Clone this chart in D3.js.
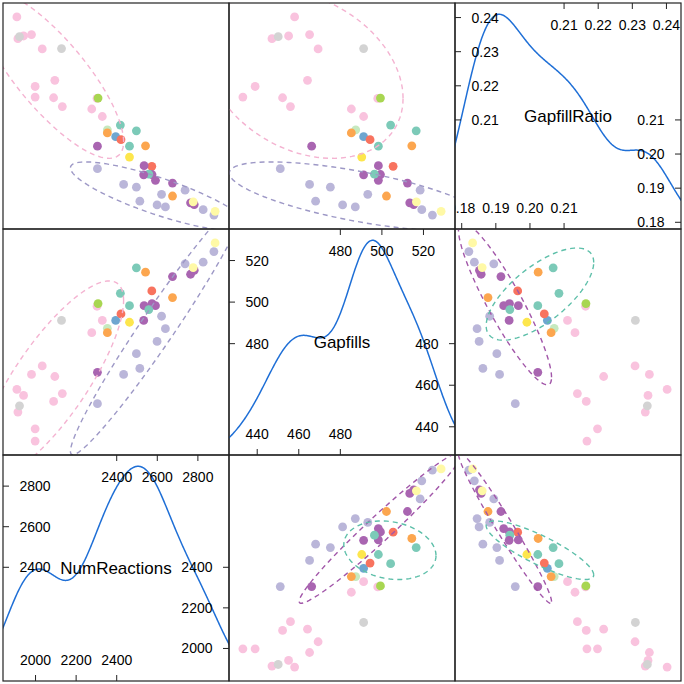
<!DOCTYPE html>
<html>
<head>
<meta charset="utf-8">
<script src="https://cdn.jsdelivr.net/npm/d3@7"></script>
<style>
  html, body { margin: 0; padding: 0; background: #fff; }
  svg { display: block; }
  text { font-family: "Liberation Sans", Arial, Helvetica, sans-serif; }
</style>
</head>
<body>
<svg id="chart" width="684" height="684"></svg>
<script>
// ---------------- data ----------------
const varNames = ["NumReactions", "Gapfills", "GapfillRatio"];

const groupNames = ["g1","g2","g3","g4","g5","g6","g7","g8","g9","g10","g11","g12"];
const groupColors = ["#7ccab8","#fff9a6","#bab6d9","#f8735f","#6fa6d0","#fca64f",
                     "#a8d651","#f9c3de","#d3d3d3","#a965b1","#c6e9bf","#fde64d"];

const pointGroup = [
  "g8","g8","g8","g8","g8","g8","g8","g8","g8","g8","g8","g8","g8",
  "g9","g9",
  "g7","g11","g6","g5","g4","g12",
  "g1","g1","g1","g6","g4",
  "g10","g10","g10","g1","g10","g10","g6","g10","g10","g10","g2",
  "g3","g3","g3","g2",
  "g3","g3","g3","g3","g3","g3","g3"
];
const numReactions = [
  1908,1941,1913,1980,2033,2095,2132,2089,1998,1998,2277,2329,2303,
  2128,1921,
  2308,2354,2354,2395,2421,2463,
  2418,2463,2497,2542,2573,
  2535,2574,2591,2558,2533,2305,2675,2675,2764,2782,2777,
  2737,2826,2879,2885,
  2621,2640,2599,2497,2514,2434,2305
];
const gapfills = [
  458.0,455.1,447.1,465.2,469.3,464.2,456.0,452.2,439.0,433.1,485.3,491.2,498.0,
  491.2,450.1,
  499.3,487.4,485.3,491.2,494.3,490.3,
  504.2,498.3,516.5,514.4,505.4,
  498.3,499.3,498.3,496.4,491.2,466.2,502.2,512.3,513.4,515.3,516.6,
  518.4,519.2,524.3,528.5,
  493.2,487.2,481.1,475.2,468.1,465.2,451.1
];
const gapfillRatio = [
  0.2402,0.2346,0.2338,0.2350,0.2308,0.2216,0.2139,0.2165,0.2198,0.2167,0.2132,0.2110,0.2163,
  0.2309,0.2344,
  0.2164,0.2071,0.2062,0.2051,0.2042,0.1991,
  0.2085,0.2023,0.2068,0.2024,0.1964,
  0.1966,0.1940,0.1923,0.1941,0.1939,0.2023,0.1877,0.1915,0.1857,0.1852,0.1860,
  0.1894,0.1837,0.1821,0.1832,
  0.1882,0.1845,0.1851,0.1903,0.1862,0.1911,0.1957
];

const tickNumReactions = [2000, 2200, 2400, 2600, 2800];
const tickGapfills = [440, 460, 480, 500, 520];
const tickGapfillRatio = [0.18, 0.19, 0.20, 0.21, 0.22, 0.23, 0.24];
const tickLabelsNumReactions = ["2000","2200","2400","2600","2800"];
const tickLabelsGapfills = ["440","460","480","500","520"];
const tickLabelsGapfillRatio = ["0.18","0.19","0.20","0.21","0.22","0.23","0.24"];

// groups that get a 95% data ellipse: upper-left panels vs lower-right panels
const ellipseGroupsUpper = ["g8", "g3"];
const ellipseGroupsLower = ["g10", "g1"];
const ellipseColors = { g8: "#f4b3d1", g3: "#9d98c6", g10: "#a257a9", g1: "#5dbfa9" };
const ellipseLevel = 0.95;

// ---------------- layout ----------------
const svg = d3.select("#chart");
const X0 = 3, SIZE = 678, N = 3, P = SIZE / N;

const vars = [
  { name: varNames[0], values: numReactions, ticks: tickNumReactions, labels: tickLabelsNumReactions },
  { name: varNames[1], values: gapfills, ticks: tickGapfills, labels: tickLabelsGapfills },
  { name: varNames[2], values: gapfillRatio, ticks: tickGapfillRatio, labels: tickLabelsGapfillRatio }
];
vars.forEach(v => {
  const [mn, mx] = d3.extent(v.values);
  const pad = (mx - mn) * 0.07;
  v.domain = [mn - pad, mx + pad];
});
const colorScale = d3.scaleOrdinal().domain(groupNames).range(groupColors);

const defs = svg.append("defs");

function bwNrd0(x) {
  const s = x.slice().sort(d3.ascending);
  const sd = d3.deviation(s);
  const iqr = d3.quantileSorted(s, 0.75) - d3.quantileSorted(s, 0.25);
  const lo = Math.min(sd, iqr / 1.34);
  return 0.9 * lo * Math.pow(s.length, -0.2);
}
function kde(x) {
  const bw = bwNrd0(x);
  const [mn, mx] = d3.extent(x);
  const a = mn - 3 * bw, b = mx + 3 * bw, n = 512;
  const out = [];
  for (let i = 0; i < n; i++) {
    const t = a + (b - a) * i / (n - 1);
    let s = 0;
    for (const xi of x) { const z = (t - xi) / bw; s += Math.exp(-0.5 * z * z); }
    out.push([t, s / (x.length * bw * Math.sqrt(2 * Math.PI))]);
  }
  return out;
}
function ellipsePts(xs, ys, level) {
  const n = xs.length;
  const mx = d3.mean(xs), my = d3.mean(ys);
  let sxx = 0, syy = 0, sxy = 0;
  for (let i = 0; i < n; i++) {
    sxx += (xs[i] - mx) ** 2; syy += (ys[i] - my) ** 2; sxy += (xs[i] - mx) * (ys[i] - my);
  }
  sxx /= (n - 1); syy /= (n - 1); sxy /= (n - 1);
  const a = Math.sqrt(sxx), b = sxy / a, c = Math.sqrt(Math.max(syy - b * b, 0));
  const r = Math.sqrt(-2 * Math.log(1 - level)); // sqrt(qchisq(level, 2))
  const pts = [];
  for (let k = 0; k <= 100; k++) {
    const t = 2 * Math.PI * k / 100;
    const cs = Math.cos(t), sn = Math.sin(t);
    pts.push([mx + r * a * cs, my + r * (b * cs + c * sn)]);
  }
  return pts;
}

for (let row = 0; row < N; row++) {
  for (let col = 0; col < N; col++) {
    const left = X0 + col * P, top = X0 + row * P;
    const right = left + P, bottom = top + P;
    const xv = vars[col], yv = vars[N - 1 - row];
    const xs = d3.scaleLinear().domain(xv.domain).range([left, right]);
    const ys = d3.scaleLinear().domain(yv.domain).range([bottom, top]);
    const clipId = `clip-${row}-${col}`;
    defs.append("clipPath").attr("id", clipId)
      .append("rect").attr("x", left).attr("y", top).attr("width", P).attr("height", P);
    const g = svg.append("g");
    const gc = g.append("g").attr("clip-path", `url(#${clipId})`);

    if (col === N - 1 - row) {
      // diagonal: density + axis labels
      const dens = kde(xv.values);
      const dmax = d3.max(dens, d => d[1]);
      const dy = d3.scaleLinear().domain([0, dmax / 0.95]).range([bottom, top]);
      gc.append("path")
        .datum(dens)
        .attr("fill", "none")
        .attr("stroke", "#1f6fd6")
        .attr("stroke-width", 1.5)
        .attr("d", d3.line().x(d => xs(d[0])).y(d => dy(d[1])));

      const nt = xv.ticks.length, h = Math.ceil(nt / 2);
      const lowIdx = d3.range(0, h), highIdx = d3.range(nt - h, nt);
      const tl = 6;
      const tickG = gc.append("g").attr("stroke", "#222").attr("stroke-width", 1);
      const txtG = gc.append("g").attr("font-size", 14).attr("fill", "#000");
      // bottom (low values)
      lowIdx.forEach(i => {
        const x = xs(xv.ticks[i]);
        tickG.append("line").attr("x1", x).attr("x2", x).attr("y1", bottom).attr("y2", bottom - tl);
        txtG.append("text").attr("x", x).attr("y", bottom - 21.5).attr("text-anchor", "middle")
          .attr("dominant-baseline", "central").text(xv.labels[i]);
      });
      // top (high values)
      highIdx.forEach(i => {
        const x = xs(xv.ticks[i]);
        tickG.append("line").attr("x1", x).attr("x2", x).attr("y1", top).attr("y2", top + tl);
        txtG.append("text").attr("x", x).attr("y", top + 22).attr("text-anchor", "middle")
          .attr("dominant-baseline", "central").text(xv.labels[i]);
      });
      // left (high values)
      highIdx.forEach(i => {
        const y = ys(yv.ticks[i]);
        tickG.append("line").attr("x1", left).attr("x2", left + tl).attr("y1", y).attr("y2", y);
        txtG.append("text").attr("x", left + 16.5).attr("y", y).attr("text-anchor", "start")
          .attr("dominant-baseline", "central").text(yv.labels[i]);
      });
      // right (low values)
      lowIdx.forEach(i => {
        const y = ys(yv.ticks[i]);
        tickG.append("line").attr("x1", right).attr("x2", right - tl).attr("y1", y).attr("y2", y);
        txtG.append("text").attr("x", right - 16.5).attr("y", y).attr("text-anchor", "end")
          .attr("dominant-baseline", "central").text(yv.labels[i]);
      });
      g.append("text")
        .attr("x", (left + right) / 2).attr("y", (top + bottom) / 2)
        .attr("text-anchor", "middle").attr("dominant-baseline", "central")
        .attr("font-size", 17).attr("fill", "#000").text(xv.name);
    } else {
      const upper = col < N - 1 - row;
      const eg = upper ? ellipseGroupsUpper : ellipseGroupsLower;
      // points
      gc.selectAll("circle")
        .data(d3.range(numReactions.length))
        .join("circle")
        .attr("cx", i => xs(xv.values[i]))
        .attr("cy", i => ys(yv.values[i]))
        .attr("r", 4.4)
        .attr("fill", i => colorScale(pointGroup[i]));
      // ellipses
      eg.forEach(grp => {
        const idx = d3.range(pointGroup.length).filter(i => pointGroup[i] === grp);
        const pts = ellipsePts(idx.map(i => xv.values[i]), idx.map(i => yv.values[i]), ellipseLevel);
        gc.append("path")
          .datum(pts)
          .attr("fill", "none")
          .attr("stroke", ellipseColors[grp])
          .attr("stroke-width", 1.4)
          .attr("stroke-dasharray", "5,4")
          .attr("d", d3.line().x(d => xs(d[0])).y(d => ys(d[1])));
      });
    }
    g.append("rect").attr("x", left).attr("y", top).attr("width", P).attr("height", P)
      .attr("fill", "none").attr("stroke", "#222").attr("stroke-width", 1.2);
  }
}
</script>
</body>
</html>
